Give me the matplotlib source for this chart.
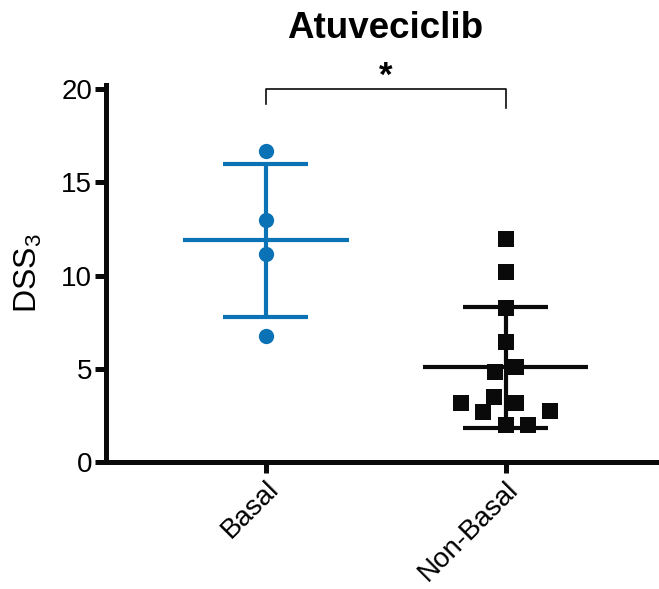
import numpy as np
import matplotlib
matplotlib.use('Agg')
import matplotlib.pyplot as plt
import matplotlib.transforms as mtransforms

plt.rcParams['font.family'] = ['Liberation Sans', 'DejaVu Sans']
plt.rcParams['mathtext.fontset'] = 'custom'
plt.rcParams['mathtext.rm'] = 'Liberation Sans'

# data
groups = ['Basal', 'Non-Basal']
basal = [16.68, 12.98, 11.14, 6.76]
non_basal = [11.94, 10.2, 8.29, 6.45, 4.84, 5.11, 3.15, 3.5, 2.7, 3.18, 2.75, 1.98, 1.98]
# horizontal scatter of points within a column (category units)
basal_jit = [0, 0, 0, 0]
non_basal_jit = [0, 0, 0, 0, -0.046, 0.045, -0.188, -0.049, -0.095, 0.045, 0.186, 0, 0.093]

blue = '#0b72b6'
black = '#0a0a0a'

fig = plt.figure(figsize=(6.59, 5.89), dpi=100)
ax = fig.add_axes([106 / 659, 127 / 589, 553 / 659, 377 / 589])

series = [(basal, basal_jit, blue, 'o'), (non_basal, non_basal_jit, black, 's')]
for i, (vals, jit, col, mk) in enumerate(series):
    v = np.array(vals)
    m, sd = v.mean(), v.std(ddof=1)
    ax.plot([i - 0.345, i + 0.345], [m, m], color=col, lw=3, solid_capstyle='butt', zorder=2)
    ax.plot([i, i], [m - sd, m + sd], color=col, lw=3, solid_capstyle='butt', zorder=2)
    for y in (m - sd, m + sd):
        ax.plot([i - 0.177, i + 0.177], [y, y], color=col, lw=3, solid_capstyle='butt', zorder=2)
    ax.plot(i + np.array(jit), v, linestyle='none', marker=mk, color=col,
            markersize=11, markeredgewidth=0, zorder=3)

# significance bracket
ax.plot([0, 0, 1, 1], [19.2, 20, 20, 19.0], color=black, lw=1.2, clip_on=False)
ax.text(0.5, 19.8, '*', ha='center', va='bottom', fontsize=25, fontweight='bold', clip_on=False)

ax.set_xlim(-0.667, 1.64)
ax.set_ylim(0, 20.23)
ax.set_yticks([0, 5, 10, 15, 20])
ax.set_xticks([0, 1])
ax.set_xticklabels(groups, rotation=45, ha='right', rotation_mode='anchor')
shift = mtransforms.ScaledTranslation(9 / 100, 0, fig.dpi_scale_trans)
for lab in ax.get_xticklabels():
    lab.set_transform(lab.get_transform() + shift)
ax.tick_params(axis='both', labelsize=20, width=3.6, length=8, color=black, pad=2)
ax.set_ylabel('DSS$_\\mathregular{3}$', fontsize=23, labelpad=12)

for s in ('top', 'right'):
    ax.spines[s].set_visible(False)
for s in ('left', 'bottom'):
    ax.spines[s].set_linewidth(3.6)
    ax.spines[s].set_color(black)

fig.text(385 / 659, 1 - 29 / 589, 'Atuveciclib', ha='center', va='center',
         fontsize=26.5, fontweight='bold')

fig.savefig('out.png', dpi=100)
